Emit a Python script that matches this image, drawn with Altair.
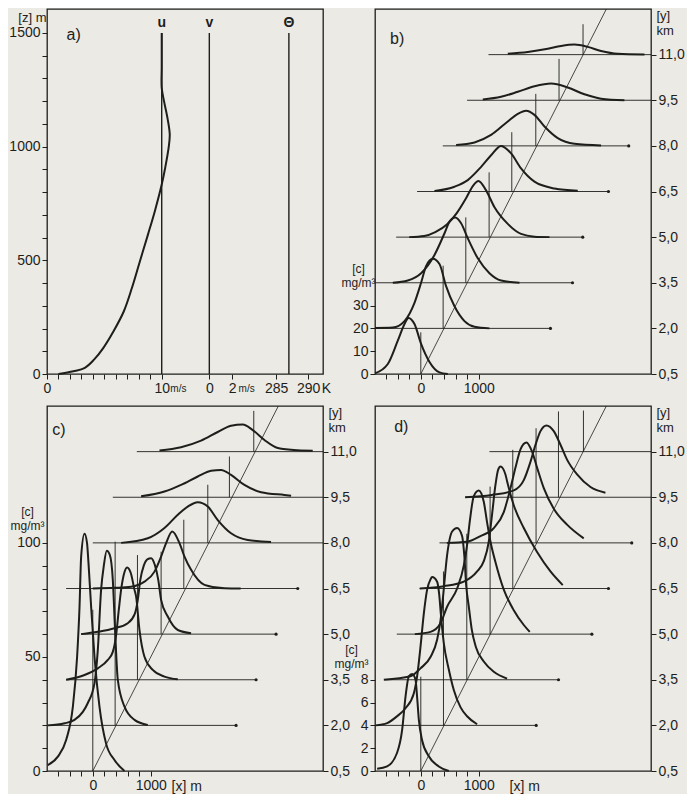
import altair as alt
import pandas as pd

INK = "#1e1e1c"
PAPER = "#ebeae4"
FONT = "Liberation Sans"

W, H = 276, 365
X_DOMAIN = [-790, 3970]
KM_DOMAIN = [0.5, 12.5]
LEVELS = [0.5, 2.0, 3.5, 5.0, 6.5, 8.0, 9.5, 11.0]
X_TICKS = [-600, -400, -200, 0, 200, 400, 600, 800, 1000]
DIAG_X = [0, 3200]
DIAG_Y = [0.5, 12.5]

# ---------------- panel a): wind and temperature profile ----------------
A_Z = [0, 12, 27, 63, 114, 188, 276, 378, 496, 613, 716, 833, 906, 994, 1053, 1126, 1200, 1258, 1350, 1500]
A_U = [1.0, 2.3, 3.3, 4.1, 4.9, 5.8, 6.7, 7.4, 8.1, 8.8, 9.4, 10.0, 10.3, 10.6, 10.7, 10.5, 10.2, 10.0, 10.0, 10.0]
A_UG = 10.0
A_V = 0.0
A_THETA = 287.0
A_ZTOP = 1500
A_Z_DOMAIN = [0, 1605]
A_Z_TICKS = list(range(0, 1501, 100))
A_U_TICKS = [0, 1, 2, 3, 4, 5, 6, 7, 8, 9, 10]
A_V_TICKS = [0, 2]
A_T_TICKS = [285, 290]
# layout of the composite x axis of a) (axis units = m/s of u)
A_X_DOMAIN = [0, 24.06]
V_AT, V_PER = 14.15, 1.0
T_AT, T_PER = 19.97, 0.558

# ---------------- panel b) ----------------
B_X = [
    [-790, -569, -397, -281, -212, -109, 5, 150, 322, 466],
    [-790, -483, -281, -109, 5, 91, 207, 322, 436, 581, 753, 926, 1184],
    [-483, -224, 5, 236, 409, 495, 591, 695, 810, 983, 1184, 1384, 1702],
    [-200, 60, 250, 450, 620, 780, 900, 995, 1121, 1271, 1500, 1729, 1960, 2219],
    [236, 581, 810, 1040, 1212, 1384, 1557, 1729, 1960, 2305, 2707],
    [609, 926, 1212, 1500, 1672, 1816, 1960, 2133, 2362, 2650, 3109],
    [1069, 1384, 1672, 1960, 2247, 2534, 2822, 3109, 3512],
    [1500, 1845, 2190, 2419, 2650, 2879, 3109, 3397, 3857],
]
B_C = [
    [0.3, 4.4, 14.6, 21.9, 24.6, 21.9, 13.2, 5.3, 0.7, 0],
    [0.2, 0.4, 3.2, 11.2, 20, 27.3, 30.5, 28.2, 18.5, 9.7, 3.2, 0.7, 0],
    [0, 1, 4.2, 12.2, 21.7, 26.8, 28.6, 26.1, 19.5, 10.7, 4.2, 1, 0],
    [0, 0.5, 2.2, 5.5, 10.5, 17, 22.5, 24.6, 20.7, 13.1, 5.8, 1.4, 0.2, 0],
    [0.2, 2.1, 5, 10.8, 15.9, 20, 16.7, 10.1, 4.3, 1.3, 0.3],
    [0.4, 1.5, 4.8, 10.7, 14, 15.4, 13.6, 8.5, 3.4, 0.9, 0.2],
    [0.3, 1.5, 3.7, 6.1, 7.3, 5.6, 2.6, 0.7, 0],
    [0.4, 1.2, 2.6, 3.8, 4.4, 3.4, 1.6, 0.4, 0.1],
]
B_LINE_FROM = [None, -790, -790, -426, -64, 379, 798, 1167]
B_LINE_TO = [None, 2236, 2616, 2793, 3236, 3586, 3970, 3970]
B_VERT_X = [0, 385, 776, 1178, 1569, 1983, 2384, 2798]
B_VERT_TOP = [1.87, 4.06, 5.65, 7.13, 8.45, 9.71, 10.86, 12.0]

# ---------------- panel c) ----------------
C_X = [
    [-776, -603, -460, -345, -271, -229, -201, -143, -100, -74, -29, 29, 116, 229, 374, 547],
    [-776, -488, -316, -172, -86, 29, 86, 143, 190, 241, 293, 345, 384, 431, 547, 719, 948],
    [-460, -143, 86, 259, 345, 402, 448, 488, 534, 591, 655, 719, 747, 805, 891, 1034, 1236, 1466],
    [-202, 86, 374, 603, 724, 776, 819, 879, 940, 1005, 1069, 1129, 1178, 1293, 1466, 1695],
    [0, 374, 660, 891, 1064, 1178, 1264, 1370, 1495, 1581, 1695, 1926, 2271, 2550],
    [488, 948, 1236, 1466, 1638, 1810, 1983, 2155, 2384, 2672, 3074],
    [833, 1236, 1522, 1810, 2040, 2212, 2384, 2615, 2902, 3305, 3420],
    [1150, 1522, 1867, 2155, 2384, 2586, 2759, 2960, 3190, 3534, 3793],
]
C_C = [
    [2.6, 6.3, 13.6, 28, 50, 72, 94, 104, 100, 91, 72, 50, 28, 12, 4.8, 0],
    [0, 0.9, 2.4, 5.9, 9.8, 18.5, 33, 59.4, 70, 76.5, 74.7, 63.8, 41.8, 19.9, 8.2, 2.4, 0.2],
    [0, 2.1, 5, 8.7, 12.2, 19.6, 30.6, 39.4, 46, 49.2, 46.8, 39.4, 36.4, 21.8, 10.1, 4.3, 1.4, 0.2],
    [0, 1, 2.6, 4.8, 8.9, 15, 23.8, 30, 32.8, 33.3, 30.4, 23.8, 15, 7.7, 1.8, 0.4],
    [0, 0.3, 0.8, 3, 7.4, 14, 19.9, 25, 19.9, 14, 8.2, 1.6, 0.1, 0],
    [0, 2, 6.5, 12.3, 15.9, 17.8, 15.9, 10, 4.2, 1.3, 0.4],
    [0.4, 2.5, 5.4, 9.1, 11.6, 12, 9.8, 5.4, 2.2, 1, 0.7],
    [0.5, 1.9, 4.8, 8.6, 11.3, 11.9, 9.4, 5.1, 1.6, 0.6, 0.4],
]
C_LINE_FROM = [None, -776, -460, -202, -460, 0, 345, 759]
C_LINE_TO = [None, 2471, 2816, 3161, 3534, 3970, 3970, 3970]
C_VERT_X = [0, 385, 770, 1178, 1569, 1983, 2356, 2776]
C_VERT_TOP = [5.8, 8.04, 7.6, 7.71, 8.76, 9.91, 10.84, 12.34]

# ---------------- panel d) ----------------
D_X = [
    [-753, -581, -409, -322, -264, -207, -150, -91, -64, -34, 22, 138, 310, 483],
    [-781, -581, -409, -264, -121, -64, -5, 52, 109, 167, 195, 281, 319, 345, 397, 483, 569, 684, 798, 971],
    [-638, -178, -5, 167, 281, 340, 384, 453, 540, 626, 712, 750, 784, 828, 879, 948, 1086, 1259, 1488],
    [-103, 167, 340, 453, 626, 741, 798, 845, 914, 1000, 1086, 1143, 1202, 1288, 1431, 1603, 1776, 1879],
    [-17, 397, 741, 971, 1086, 1172, 1229, 1288, 1333, 1374, 1460, 1488, 1603, 1776, 2005, 2236, 2448],
    [448, 793, 1029, 1259, 1431, 1547, 1633, 1719, 1822, 1919, 2005, 2121, 2293, 2522, 2810],
    [764, 1224, 1603, 1776, 1891, 1978, 2064, 2167, 2293, 2409, 2522, 2695, 2926, 3184],
]
D_C = [
    [0.2, 0.4, 1.6, 3.6, 6.5, 8.3, 8.5, 8, 6.5, 4.5, 2.7, 1.3, 0.4, 0],
    [0, 0.2, 0.8, 1.5, 2.8, 4.3, 6.9, 9.8, 11.9, 12.8, 13, 12.6, 11.4, 9.8, 7.2, 4.9, 3.1, 1.6, 0.8, 0.1],
    [0, 0.3, 1.0, 2.0, 3.5, 5.2, 7.3, 10.9, 13.0, 13.3, 12.6, 10.9, 8.2, 6.4, 4.4, 2.9, 1.6, 0.7, 0.1],
    [0, 0.2, 0.96, 2.4, 4.0, 6.0, 7.8, 9.9, 12.1, 12.6, 11.6, 9.8, 8.1, 6.3, 3.9, 2.1, 0.8, 0.2],
    [0, 0.2, 0.6, 1.5, 2.4, 4.1, 6.5, 9.1, 10.4, 10.7, 10.0, 9.4, 7.3, 5.3, 3.2, 1.5, 0.3],
    [0, 0.1, 0.6, 1.3, 2.7, 4.8, 6.6, 8.2, 8.8, 8.0, 6.6, 4.8, 3.0, 1.6, 0.4],
    [0, 0.2, 0.6, 1.5, 3.1, 4.6, 5.8, 6.3, 5.8, 4.6, 3.3, 2.0, 0.9, 0.4],
]
D_LINE_FROM = [None, -790, -616, -414, -22, 322, 764, 1184]
D_LINE_TO = [None, 1990, 2375, 2950, 3236, 3638, 3970, 3970]
D_VERT_X = [0, 391, 793, 1195, 1586, 1988, 2374, 2805]
D_VERT_TOP = [3.6, 7.06, 8.3, 9.85, 11.06, 11.77, 12.32, 12.35]


def label_expr(pairs):
    expr = "''"
    for pos, lab in reversed(pairs):
        expr = f"abs(datum.value - {pos}) < 0.001 ? '{lab}' : {expr}"
    return expr


# ---------------- build a) ----------------
def panel_a():
    xs = alt.Scale(domain=A_X_DOMAIN, nice=False, zero=False)
    zs = alt.Scale(domain=A_Z_DOMAIN, nice=False, zero=False)
    pairs = [(u, str(u) if u in (0, 10) else "") for u in A_U_TICKS]
    pairs += [(round(V_AT + v * V_PER, 3), str(v)) for v in A_V_TICKS]
    pairs += [(round(T_AT + (t - 285) * T_PER, 3), str(t)) for t in A_T_TICKS]
    x_axis = alt.Axis(orient="bottom", values=[p for p, _ in pairs], labelExpr=label_expr(pairs),
                      title=None, labelFlush=False, labelOverlap=False)
    z_axis = alt.Axis(orient="left", values=A_Z_TICKS,
                      labelExpr="datum.value % 500 == 0 ? format(datum.value, 'd') : ''",
                      title="[z] m", titleAngle=0, titleAlign="right", titleBaseline="middle",
                      titleX=-1, titleY=8, titleFontSize=13, labelOverlap=False)
    prof = alt.Chart(pd.DataFrame({"u": A_U, "z": A_Z})).mark_line(
        color=INK, strokeWidth=2, interpolate="catmull-rom"
    ).encode(x=alt.X("u:Q", scale=xs, axis=x_axis),
             y=alt.Y("z:Q", scale=zs, axis=z_axis), order="z:Q")

    ref = pd.DataFrame({
        "pos": [A_UG, V_AT + A_V * V_PER, T_AT + (A_THETA - 285) * T_PER],
        "name": ["u", "v", "Θ"],
        "z0": [0, 0, 0], "z1": [A_ZTOP] * 3,
    })
    ref["zt"] = A_ZTOP * 1.03
    rules = alt.Chart(ref).mark_rule(color=INK, strokeWidth=1.4).encode(
        x=alt.X("pos:Q", scale=xs, axis=None), y=alt.Y("z0:Q", scale=zs, axis=None), y2="z1:Q")
    names = alt.Chart(ref).mark_text(color=INK, font=FONT, fontSize=14, fontWeight="bold").encode(
        x=alt.X("pos:Q", scale=xs, axis=None), y=alt.Y("zt:Q", scale=zs, axis=None), text="name:N")

    units = pd.DataFrame({"t": ["m/s", "m/s", "K"],
                          "pos": [10.75, V_AT + 2.55, 23.95],
                          "fs": [10, 10, 14], "z": [0, 0, 0]})
    unit_txt = alt.Chart(units).mark_text(color=INK, font=FONT, align="left", baseline="middle", dy=15).encode(
        x=alt.X("pos:Q", scale=xs, axis=None), y=alt.Y("z:Q", scale=zs, axis=None),
        text="t:N", size=alt.Size("fs:Q", scale=None))
    tag = alt.Chart(pd.DataFrame({"t": ["a)"], "x": [1.7], "z": [1491]})).mark_text(
        color=INK, font=FONT, fontSize=16, align="left", baseline="middle").encode(
        x=alt.X("x:Q", scale=xs, axis=None), y=alt.Y("z:Q", scale=zs, axis=None), text="t:N")
    return alt.layer(prof, rules, names, unit_txt, tag).resolve_axis(
        x="independent", y="independent").properties(width=W, height=H)


# ---------------- build b), c), d) ----------------
def panel_profiles(levels_used, xs_list, cs_list, k, line_from, line_to, vert_x, vert_top,
                   cticks, cstep, ctitle_xy, tag, tag_xy, xtitle_x=None):
    xs = alt.Scale(domain=X_DOMAIN, nice=False, zero=False)
    ys = alt.Scale(domain=KM_DOMAIN, nice=False, zero=False)

    rows = []
    for lv, xl, cl in zip(levels_used, xs_list, cs_list):
        for x, c in zip(xl, cl):
            rows.append({"level": lv, "x": x, "c": c})
    cdf = pd.DataFrame(rows)

    x_kw = dict(orient="bottom", values=X_TICKS,
                labelExpr="datum.value == 0 || datum.value == 1000 ? format(datum.value, 'd') : ''",
                labelFlush=False, labelOverlap=False)
    if xtitle_x is None:
        x_axis = alt.Axis(title=None, **x_kw)
    else:
        x_axis = alt.Axis(title="[x] m", titleAngle=0, titleAlign="left", titleBaseline="middle",
                          titleX=xtitle_x, titleY=15, titleFontSize=14, **x_kw)
    left_axis = alt.Axis(
        orient="left", values=[0.5 + c * k for c in cticks],
        labelExpr=f"(round((datum.value - 0.5) / {k}) % {cstep} == 0) ? format(round((datum.value - 0.5) / {k}), 'd') : ''",
        title=["[c]", "mg/m³"], titleAngle=0, titleAlign="center", titleBaseline="top",
        titleX=ctitle_xy[0], titleY=ctitle_xy[1], titleFontSize=12, titleLineHeight=14,
        labelOverlap=False)
    right_axis = alt.Axis(
        orient="right", values=LEVELS,
        labelExpr="replace(format(datum.value, '.1f'), '.', ',')",
        title=["[y]", "km"], titleAngle=0, titleAlign="left", titleBaseline="top",
        titleX=5, titleY=0, titleFontSize=13, titleLineHeight=15, labelOverlap=False)

    curves = alt.Chart(cdf).transform_calculate(
        y=f"datum.level + datum.c * {k}"
    ).mark_line(color=INK, strokeWidth=2, interpolate="monotone").encode(
        x=alt.X("x:Q", scale=xs, axis=x_axis),
        y=alt.Y("y:Q", scale=ys, axis=left_axis),
        detail="level:N")

    bl = pd.DataFrame({"level": LEVELS, "x0": line_from, "x1": line_to}).dropna()
    base = alt.Chart(bl).mark_rule(color=INK, strokeWidth=0.9).encode(
        x=alt.X("x0:Q", scale=xs, axis=None), x2="x1:Q",
        y=alt.Y("level:Q", scale=ys, axis=right_axis))
    dots = alt.Chart(bl[bl["x1"] < X_DOMAIN[1] - 50]).mark_circle(color=INK, size=10, opacity=1).encode(
        x=alt.X("x1:Q", scale=xs, axis=None), y=alt.Y("level:Q", scale=ys, axis=None))

    vdf = pd.DataFrame({"level": LEVELS, "vx": vert_x, "vtop": vert_top})
    verts = alt.Chart(vdf).mark_rule(color=INK, strokeWidth=0.9).encode(
        x=alt.X("vx:Q", scale=xs, axis=None),
        y=alt.Y("level:Q", scale=ys, axis=None), y2="vtop:Q")

    diag = alt.Chart(pd.DataFrame({"x": DIAG_X, "y": DIAG_Y})).mark_line(
        color=INK, strokeWidth=0.8, clip=True).encode(
        x=alt.X("x:Q", scale=xs, axis=None), y=alt.Y("y:Q", scale=ys, axis=None))

    tagc = alt.Chart(pd.DataFrame({"t": [tag], "x": [tag_xy[0]], "y": [tag_xy[1]]})).mark_text(
        color=INK, font=FONT, fontSize=16, align="left", baseline="middle").encode(
        x=alt.X("x:Q", scale=xs, axis=None), y=alt.Y("y:Q", scale=ys, axis=None), text="t:N")

    return alt.layer(curves, base, dots, verts, diag, tagc).resolve_axis(
        x="independent", y="independent").properties(width=W, height=H)


pa = panel_a()
pb = panel_profiles(LEVELS, B_X, B_C, 0.075, B_LINE_FROM, B_LINE_TO, B_VERT_X, B_VERT_TOP,
                    [0, 10, 20, 30], 10, (-17, 254), "b)", (-530, 11.5))
pc = panel_profiles(LEVELS, C_X, C_C, 0.075, C_LINE_FROM, C_LINE_TO, C_VERT_X, C_VERT_TOP,
                    list(range(0, 101, 10)), 50, (-20, 100), "c)", (-700, 11.7), xtitle_x=124)
pd_ = panel_profiles(LEVELS[:7], D_X, D_C, 0.375, D_LINE_FROM, D_LINE_TO, D_VERT_X, D_VERT_TOP,
                     [0, 2, 4, 6, 8], 2, (-24, 238), "d)", (-460, 11.8), xtitle_x=134)

chart = alt.concat(pa, pb, pc, pd_, columns=2).properties(
    spacing={"row": 32, "column": 52},
    bounds="flush",
    padding={"left": 0, "top": 0, "right": 2, "bottom": 0},
    background=PAPER,
).configure_view(
    stroke=INK, strokeWidth=1.3
).configure_axis(
    domain=False, grid=False, ticks=True, tickColor=INK, tickSize=5, tickWidth=1,
    labelFont=FONT, labelFontSize=14, labelColor=INK, labelPadding=2,
    titleFont=FONT, titleColor=INK, titleFontWeight="normal",
)

chart.save("out.html", embed_options={"renderer": "svg", "actions": False})
